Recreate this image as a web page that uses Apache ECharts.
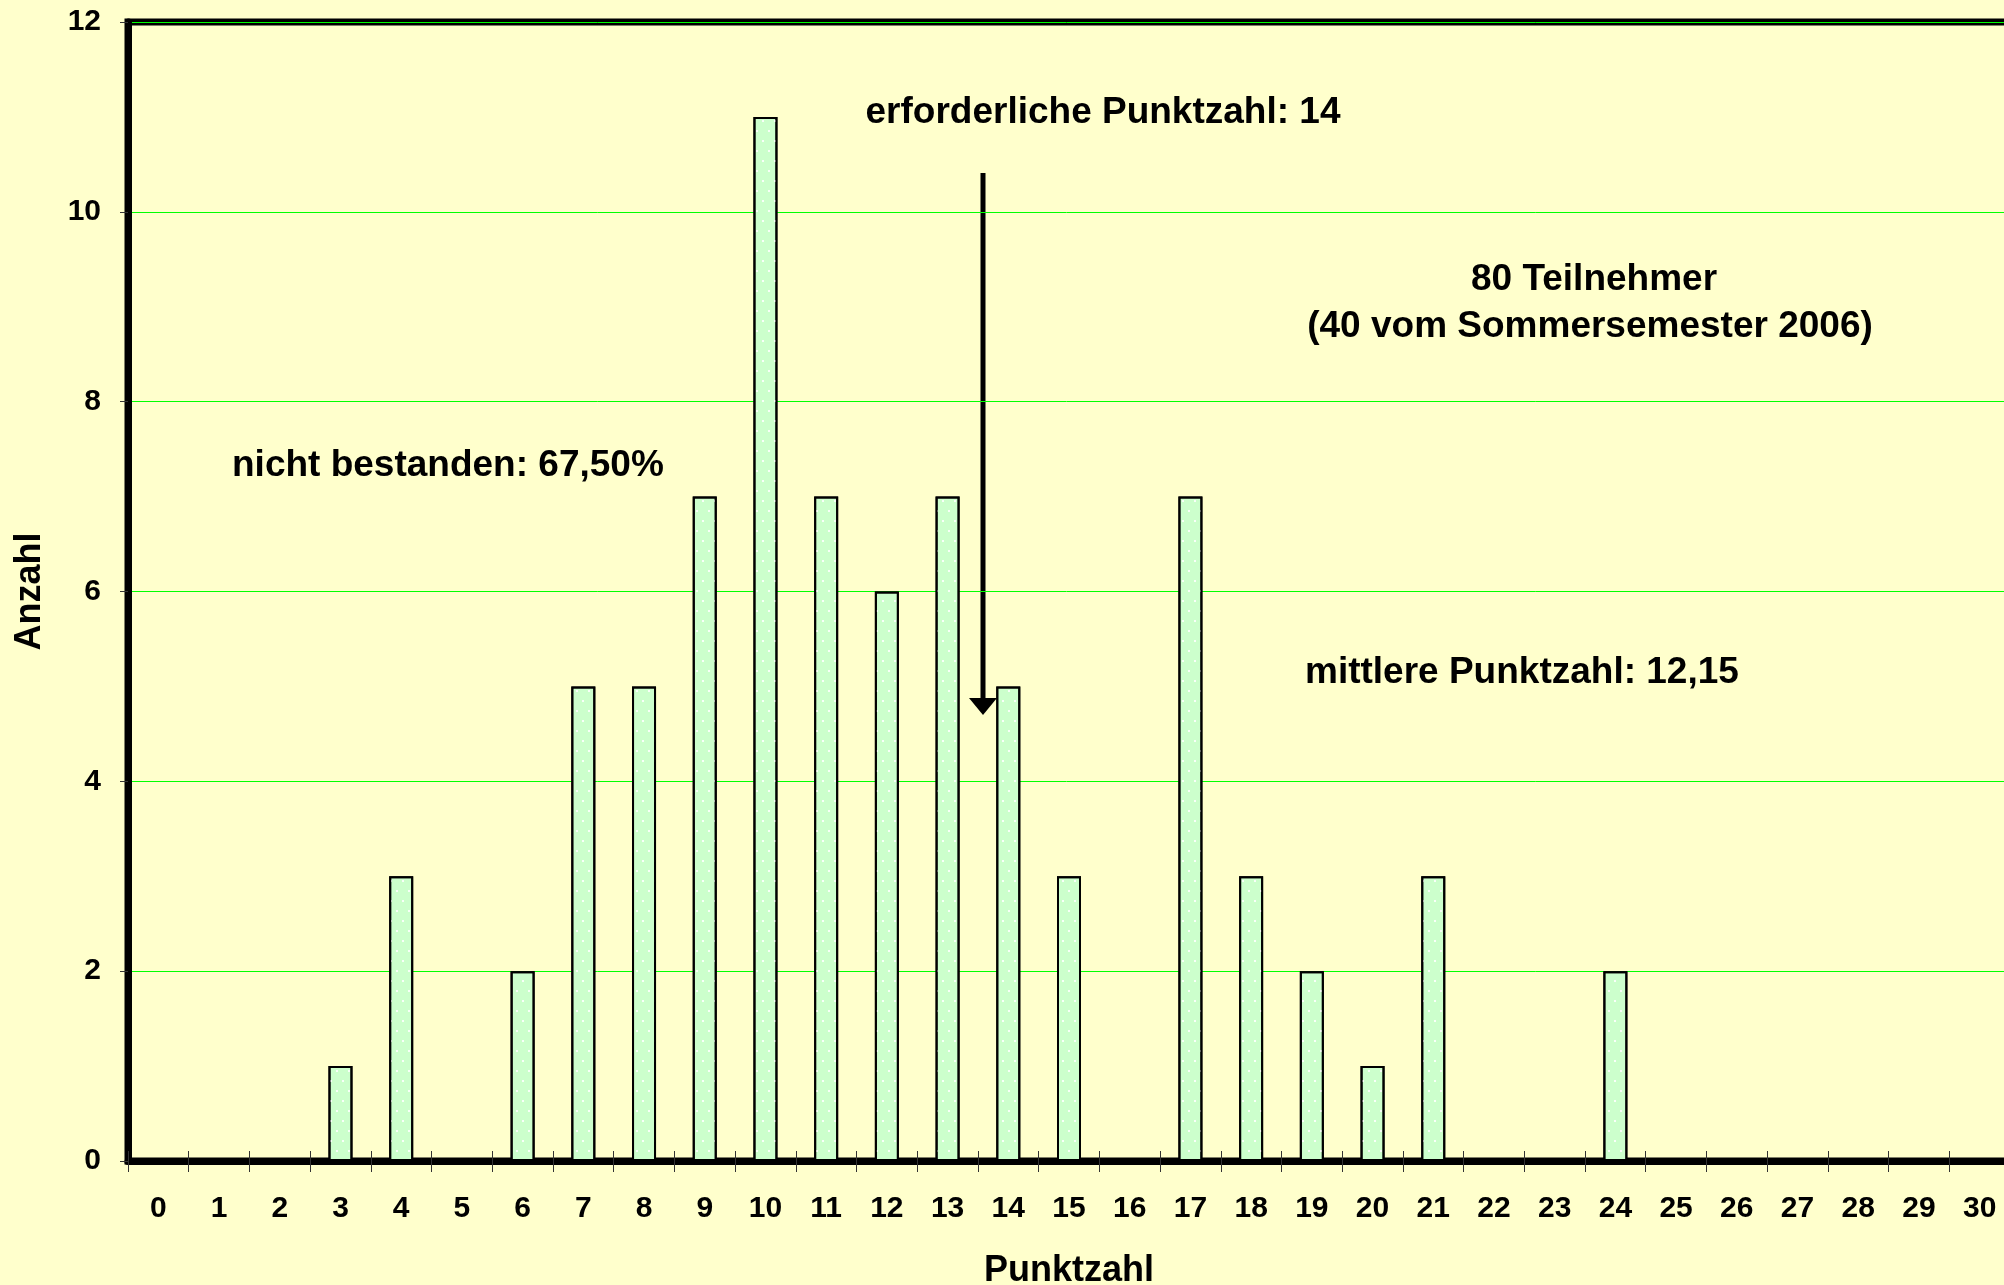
<!DOCTYPE html>
<html>
<head>
<meta charset="utf-8">
<title>Punktzahl</title>
<script src="https://cdn.jsdelivr.net/npm/echarts@6/dist/echarts.min.js"></script>
<style>
  html, body {
    margin: 0;
    padding: 0;
    background: #FFFFCC;
  }
  #chart {
    width: 2004px;
    height: 1285px;
  }
</style>
</head>
<body>
<div id="chart"></div>
<script>
  // Punktzahl 0..30
  var categories = ['0', '1', '2', '3', '4', '5', '6', '7', '8', '9', '10',
    '11', '12', '13', '14', '15', '16', '17', '18', '19', '20',
    '21', '22', '23', '24', '25', '26', '27', '28', '29', '30'];
  // Anzahl je Punktzahl
  var counts = [0, 0, 0, 1, 3, 0, 2, 5, 5, 7, 11,
    7, 6, 7, 5, 3, 0, 7, 3, 2, 1,
    3, 0, 0, 2, 0, 0, 0, 0, 0, 0];
  var yTicks = [0, 2, 4, 6, 8, 10, 12];

  var fontFamily = '"Liberation Sans", Arial, sans-serif';
  var bigFont = 'bold 37px ' + fontFamily;

  var chart = echarts.init(document.getElementById('chart'));

  var option = {
    backgroundColor: '#FFFFCC',
    animation: false,
    grid: {
      left: 128,
      top: 22,
      right: -6,
      bottom: 124,
      containLabel: false,
      outerBoundsMode: 'none',
      show: true,
      borderColor: '#000',
      borderWidth: 7,
      backgroundColor: 'transparent'
    },
    xAxis: [
      {
        type: 'category',
        data: categories,
        position: 'bottom',
        name: 'Punktzahl',
        nameLocation: 'middle',
        nameGap: 92,
        nameTextStyle: {
          color: '#000',
          fontFamily: fontFamily,
          fontWeight: 'bold',
          fontSize: 36
        },
        axisLine: {
          show: true,
          lineStyle: {color: '#000', width: 7}
        },
        axisTick: {
          show: true,
          inside: false,
          length: 11,
          lineStyle: {color: '#333', width: 1}
        },
        axisLabel: {
          interval: 0,
          margin: 33,
          color: '#000',
          fontFamily: fontFamily,
          fontWeight: 'bold',
          fontSize: 30
        },
        splitLine: {show: false}
      },
      {
        // only for the short ticks above the axis line
        type: 'category',
        data: categories,
        position: 'bottom',
        axisLine: {show: false},
        axisTick: {
          show: true,
          inside: true,
          length: 10,
          lineStyle: {color: '#333', width: 1}
        },
        axisLabel: {show: false},
        splitLine: {show: false}
      }
    ],
    yAxis: {
      type: 'value',
      min: yTicks[0],
      max: yTicks[yTicks.length - 1],
      interval: yTicks[1] - yTicks[0],
      name: 'Anzahl',
      nameLocation: 'middle',
      nameRotate: 90,
      nameGap: 80,
      nameTextStyle: {
        color: '#000',
        fontFamily: fontFamily,
        fontWeight: 'bold',
        fontSize: 36
      },
      axisLine: {
        show: true,
        lineStyle: {color: '#000', width: 7}
      },
      axisTick: {
        show: true,
        length: 8,
        lineStyle: {color: '#333', width: 1}
      },
      axisLabel: {
        margin: 27,
        color: '#000',
        fontFamily: fontFamily,
        fontWeight: 'bold',
        fontSize: 30
      },
      splitLine: {
        show: true,
        lineStyle: {color: '#00FF00', width: 1}
      }
    },
    series: [
      {
        type: 'bar',
        xAxisIndex: 0,
        data: counts,
        barWidth: 24,
        itemStyle: {
          color: '#CCFFCC',
          borderColor: '#000',
          borderWidth: 2,
          decal: {
            symbol: 'rect',
            symbolSize: 1,
            color: 'rgba(255,255,255,0.85)',
            dashArrayX: [[2, 10], [0, 6, 2, 4]],
            dashArrayY: [2, 8]
          }
        },
        emphasis: {disabled: true}
      }
    ],
    graphic: [
      {
        type: 'text',
        style: {
          text: 'erforderliche Punktzahl: 14',
          x: 1103, y: 113,
          align: 'center', verticalAlign: 'middle',
          font: bigFont, fill: '#000'
        }
      },
      {
        type: 'text',
        style: {
          text: '80 Teilnehmer',
          x: 1594, y: 280,
          align: 'center', verticalAlign: 'middle',
          font: bigFont, fill: '#000'
        }
      },
      {
        type: 'text',
        style: {
          text: '(40 vom Sommersemester 2006)',
          x: 1590, y: 327,
          align: 'center', verticalAlign: 'middle',
          font: bigFont, fill: '#000'
        }
      },
      {
        type: 'text',
        style: {
          text: 'nicht bestanden: 67,50%',
          x: 232, y: 466,
          align: 'left', verticalAlign: 'middle',
          font: bigFont, fill: '#000'
        }
      },
      {
        type: 'text',
        style: {
          text: 'mittlere Punktzahl: 12,15',
          x: 1305, y: 673,
          align: 'left', verticalAlign: 'middle',
          font: bigFont, fill: '#000'
        }
      },
      // arrow at the required score
      {
        type: 'line',
        shape: {x1: 983, y1: 173, x2: 983, y2: 702},
        style: {stroke: '#000', lineWidth: 5}
      },
      {
        type: 'polygon',
        shape: {points: [[969, 698], [997, 698], [983, 715]]},
        style: {fill: '#000'}
      }
    ]
  };

  chart.setOption(option);
</script>
</body>
</html>
